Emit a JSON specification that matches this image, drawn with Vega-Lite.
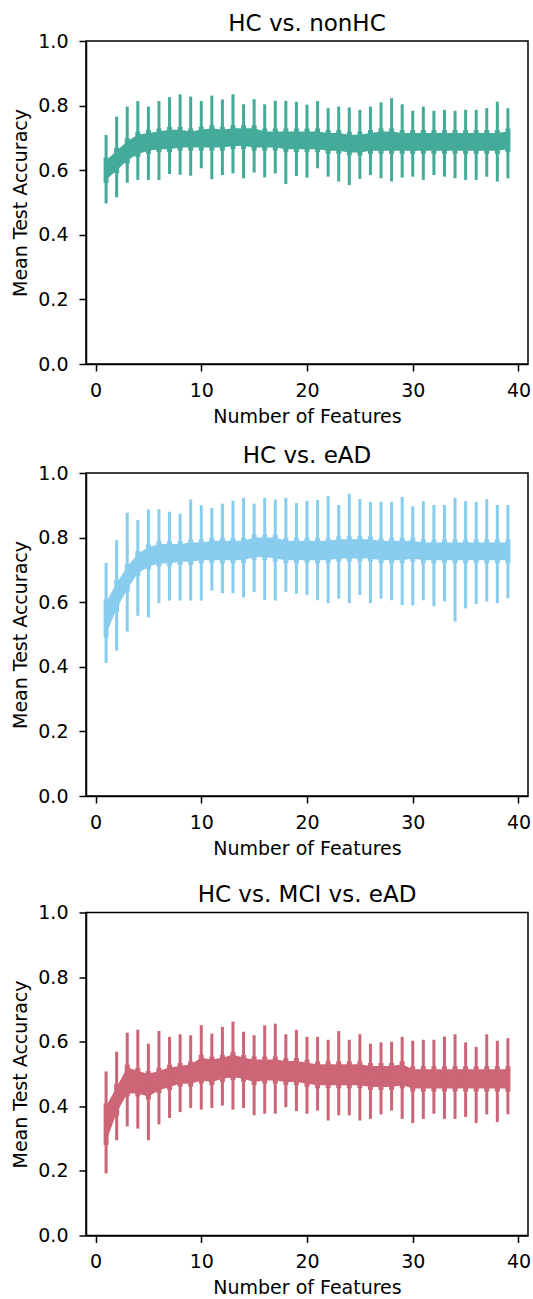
{
  "$schema": "https://vega.github.io/schema/vega-lite/v6.json",
  "padding": {"left": 11, "top": 11, "right": 5, "bottom": 0},
  "background": "white",
  "datasets": {
    "hcNonHC": [
      {"features":1,"errHigh":0.709,"errLow":0.497,"bandLow":0.57,"bandHigh":0.63},
      {"features":2,"errHigh":0.766,"errLow":0.516,"bandLow":0.60,"bandHigh":0.66},
      {"features":3,"errHigh":0.797,"errLow":0.561,"bandLow":0.63,"bandHigh":0.69},
      {"features":4,"errHigh":0.814,"errLow":0.570,"bandLow":0.65,"bandHigh":0.71},
      {"features":5,"errHigh":0.797,"errLow":0.570,"bandLow":0.66,"bandHigh":0.715},
      {"features":6,"errHigh":0.814,"errLow":0.570,"bandLow":0.665,"bandHigh":0.72},
      {"features":7,"errHigh":0.826,"errLow":0.588,"bandLow":0.665,"bandHigh":0.725},
      {"features":8,"errHigh":0.835,"errLow":0.586,"bandLow":0.67,"bandHigh":0.725},
      {"features":9,"errHigh":0.828,"errLow":0.583,"bandLow":0.67,"bandHigh":0.72},
      {"features":10,"errHigh":0.814,"errLow":0.606,"bandLow":0.67,"bandHigh":0.725},
      {"features":11,"errHigh":0.831,"errLow":0.572,"bandLow":0.67,"bandHigh":0.73},
      {"features":12,"errHigh":0.819,"errLow":0.585,"bandLow":0.67,"bandHigh":0.725},
      {"features":13,"errHigh":0.835,"errLow":0.590,"bandLow":0.675,"bandHigh":0.73},
      {"features":14,"errHigh":0.804,"errLow":0.575,"bandLow":0.675,"bandHigh":0.73},
      {"features":15,"errHigh":0.820,"errLow":0.593,"bandLow":0.67,"bandHigh":0.73},
      {"features":16,"errHigh":0.804,"errLow":0.578,"bandLow":0.67,"bandHigh":0.72},
      {"features":17,"errHigh":0.815,"errLow":0.590,"bandLow":0.67,"bandHigh":0.72},
      {"features":18,"errHigh":0.815,"errLow":0.557,"bandLow":0.665,"bandHigh":0.72},
      {"features":19,"errHigh":0.812,"errLow":0.582,"bandLow":0.665,"bandHigh":0.72},
      {"features":20,"errHigh":0.803,"errLow":0.577,"bandLow":0.665,"bandHigh":0.72},
      {"features":21,"errHigh":0.814,"errLow":0.606,"bandLow":0.665,"bandHigh":0.72},
      {"features":22,"errHigh":0.792,"errLow":0.580,"bandLow":0.66,"bandHigh":0.715},
      {"features":23,"errHigh":0.797,"errLow":0.565,"bandLow":0.66,"bandHigh":0.715},
      {"features":24,"errHigh":0.794,"errLow":0.554,"bandLow":0.655,"bandHigh":0.71},
      {"features":25,"errHigh":0.787,"errLow":0.573,"bandLow":0.655,"bandHigh":0.71},
      {"features":26,"errHigh":0.797,"errLow":0.585,"bandLow":0.66,"bandHigh":0.715},
      {"features":27,"errHigh":0.810,"errLow":0.575,"bandLow":0.66,"bandHigh":0.72},
      {"features":28,"errHigh":0.823,"errLow":0.565,"bandLow":0.66,"bandHigh":0.72},
      {"features":29,"errHigh":0.804,"errLow":0.577,"bandLow":0.66,"bandHigh":0.715},
      {"features":30,"errHigh":0.784,"errLow":0.580,"bandLow":0.66,"bandHigh":0.715},
      {"features":31,"errHigh":0.797,"errLow":0.570,"bandLow":0.66,"bandHigh":0.715},
      {"features":32,"errHigh":0.784,"errLow":0.585,"bandLow":0.66,"bandHigh":0.715},
      {"features":33,"errHigh":0.787,"errLow":0.580,"bandLow":0.66,"bandHigh":0.715},
      {"features":34,"errHigh":0.784,"errLow":0.575,"bandLow":0.66,"bandHigh":0.715},
      {"features":35,"errHigh":0.787,"errLow":0.570,"bandLow":0.66,"bandHigh":0.715},
      {"features":36,"errHigh":0.787,"errLow":0.570,"bandLow":0.66,"bandHigh":0.715},
      {"features":37,"errHigh":0.792,"errLow":0.580,"bandLow":0.66,"bandHigh":0.715},
      {"features":38,"errHigh":0.812,"errLow":0.565,"bandLow":0.66,"bandHigh":0.715},
      {"features":39,"errHigh":0.792,"errLow":0.575,"bandLow":0.665,"bandHigh":0.72}
    ],
    "hcEAD": [
      {"features":1,"errHigh":0.722,"errLow":0.412,"bandLow":0.50,"bandHigh":0.60},
      {"features":2,"errHigh":0.792,"errLow":0.450,"bandLow":0.58,"bandHigh":0.66},
      {"features":3,"errHigh":0.877,"errLow":0.509,"bandLow":0.64,"bandHigh":0.71},
      {"features":4,"errHigh":0.854,"errLow":0.558,"bandLow":0.69,"bandHigh":0.75},
      {"features":5,"errHigh":0.887,"errLow":0.553,"bandLow":0.71,"bandHigh":0.77},
      {"features":6,"errHigh":0.888,"errLow":0.597,"bandLow":0.72,"bandHigh":0.78},
      {"features":7,"errHigh":0.880,"errLow":0.605,"bandLow":0.72,"bandHigh":0.78},
      {"features":8,"errHigh":0.874,"errLow":0.605,"bandLow":0.725,"bandHigh":0.78},
      {"features":9,"errHigh":0.918,"errLow":0.605,"bandLow":0.725,"bandHigh":0.785},
      {"features":10,"errHigh":0.900,"errLow":0.605,"bandLow":0.73,"bandHigh":0.785},
      {"features":11,"errHigh":0.892,"errLow":0.636,"bandLow":0.73,"bandHigh":0.79},
      {"features":12,"errHigh":0.905,"errLow":0.628,"bandLow":0.73,"bandHigh":0.79},
      {"features":13,"errHigh":0.914,"errLow":0.628,"bandLow":0.73,"bandHigh":0.79},
      {"features":14,"errHigh":0.923,"errLow":0.615,"bandLow":0.73,"bandHigh":0.79},
      {"features":15,"errHigh":0.905,"errLow":0.631,"bandLow":0.74,"bandHigh":0.80},
      {"features":16,"errHigh":0.923,"errLow":0.607,"bandLow":0.74,"bandHigh":0.80},
      {"features":17,"errHigh":0.918,"errLow":0.605,"bandLow":0.735,"bandHigh":0.80},
      {"features":18,"errHigh":0.923,"errLow":0.632,"bandLow":0.73,"bandHigh":0.79},
      {"features":19,"errHigh":0.907,"errLow":0.626,"bandLow":0.73,"bandHigh":0.79},
      {"features":20,"errHigh":0.914,"errLow":0.622,"bandLow":0.73,"bandHigh":0.79},
      {"features":21,"errHigh":0.916,"errLow":0.606,"bandLow":0.73,"bandHigh":0.79},
      {"features":22,"errHigh":0.928,"errLow":0.597,"bandLow":0.73,"bandHigh":0.79},
      {"features":23,"errHigh":0.901,"errLow":0.611,"bandLow":0.735,"bandHigh":0.795},
      {"features":24,"errHigh":0.936,"errLow":0.597,"bandLow":0.735,"bandHigh":0.795},
      {"features":25,"errHigh":0.919,"errLow":0.622,"bandLow":0.735,"bandHigh":0.795},
      {"features":26,"errHigh":0.911,"errLow":0.597,"bandLow":0.735,"bandHigh":0.795},
      {"features":27,"errHigh":0.911,"errLow":0.611,"bandLow":0.73,"bandHigh":0.79},
      {"features":28,"errHigh":0.911,"errLow":0.606,"bandLow":0.73,"bandHigh":0.79},
      {"features":29,"errHigh":0.926,"errLow":0.591,"bandLow":0.73,"bandHigh":0.79},
      {"features":30,"errHigh":0.897,"errLow":0.590,"bandLow":0.735,"bandHigh":0.79},
      {"features":31,"errHigh":0.913,"errLow":0.606,"bandLow":0.73,"bandHigh":0.785},
      {"features":32,"errHigh":0.901,"errLow":0.587,"bandLow":0.73,"bandHigh":0.785},
      {"features":33,"errHigh":0.901,"errLow":0.603,"bandLow":0.73,"bandHigh":0.785},
      {"features":34,"errHigh":0.923,"errLow":0.540,"bandLow":0.73,"bandHigh":0.785},
      {"features":35,"errHigh":0.913,"errLow":0.581,"bandLow":0.73,"bandHigh":0.785},
      {"features":36,"errHigh":0.911,"errLow":0.594,"bandLow":0.73,"bandHigh":0.785},
      {"features":37,"errHigh":0.919,"errLow":0.602,"bandLow":0.73,"bandHigh":0.785},
      {"features":38,"errHigh":0.901,"errLow":0.597,"bandLow":0.73,"bandHigh":0.785},
      {"features":39,"errHigh":0.901,"errLow":0.612,"bandLow":0.73,"bandHigh":0.785}
    ],
    "hcMciEAD": [
      {"features":1,"errHigh":0.508,"errLow":0.192,"bandLow":0.29,"bandHigh":0.40},
      {"features":2,"errHigh":0.569,"errLow":0.295,"bandLow":0.38,"bandHigh":0.46},
      {"features":3,"errHigh":0.628,"errLow":0.338,"bandLow":0.44,"bandHigh":0.52},
      {"features":4,"errHigh":0.637,"errLow":0.331,"bandLow":0.44,"bandHigh":0.51},
      {"features":5,"errHigh":0.594,"errLow":0.295,"bandLow":0.43,"bandHigh":0.50},
      {"features":6,"errHigh":0.633,"errLow":0.344,"bandLow":0.45,"bandHigh":0.51},
      {"features":7,"errHigh":0.615,"errLow":0.364,"bandLow":0.46,"bandHigh":0.52},
      {"features":8,"errHigh":0.623,"errLow":0.382,"bandLow":0.47,"bandHigh":0.525},
      {"features":9,"errHigh":0.620,"errLow":0.395,"bandLow":0.47,"bandHigh":0.53},
      {"features":10,"errHigh":0.651,"errLow":0.390,"bandLow":0.48,"bandHigh":0.55},
      {"features":11,"errHigh":0.625,"errLow":0.395,"bandLow":0.475,"bandHigh":0.545},
      {"features":12,"errHigh":0.646,"errLow":0.402,"bandLow":0.485,"bandHigh":0.55},
      {"features":13,"errHigh":0.662,"errLow":0.390,"bandLow":0.49,"bandHigh":0.56},
      {"features":14,"errHigh":0.631,"errLow":0.395,"bandLow":0.485,"bandHigh":0.55},
      {"features":15,"errHigh":0.620,"errLow":0.372,"bandLow":0.475,"bandHigh":0.545},
      {"features":16,"errHigh":0.651,"errLow":0.377,"bandLow":0.48,"bandHigh":0.545},
      {"features":17,"errHigh":0.656,"errLow":0.377,"bandLow":0.48,"bandHigh":0.545},
      {"features":18,"errHigh":0.623,"errLow":0.397,"bandLow":0.475,"bandHigh":0.54},
      {"features":19,"errHigh":0.637,"errLow":0.385,"bandLow":0.475,"bandHigh":0.54},
      {"features":20,"errHigh":0.615,"errLow":0.377,"bandLow":0.47,"bandHigh":0.535},
      {"features":21,"errHigh":0.615,"errLow":0.387,"bandLow":0.465,"bandHigh":0.53},
      {"features":22,"errHigh":0.606,"errLow":0.356,"bandLow":0.465,"bandHigh":0.53},
      {"features":23,"errHigh":0.633,"errLow":0.372,"bandLow":0.465,"bandHigh":0.53},
      {"features":24,"errHigh":0.606,"errLow":0.372,"bandLow":0.465,"bandHigh":0.53},
      {"features":25,"errHigh":0.623,"errLow":0.356,"bandLow":0.465,"bandHigh":0.53},
      {"features":26,"errHigh":0.594,"errLow":0.361,"bandLow":0.46,"bandHigh":0.525},
      {"features":27,"errHigh":0.598,"errLow":0.375,"bandLow":0.46,"bandHigh":0.525},
      {"features":28,"errHigh":0.600,"errLow":0.387,"bandLow":0.46,"bandHigh":0.525},
      {"features":29,"errHigh":0.615,"errLow":0.361,"bandLow":0.465,"bandHigh":0.53},
      {"features":30,"errHigh":0.603,"errLow":0.348,"bandLow":0.455,"bandHigh":0.515},
      {"features":31,"errHigh":0.606,"errLow":0.361,"bandLow":0.455,"bandHigh":0.515},
      {"features":32,"errHigh":0.606,"errLow":0.377,"bandLow":0.455,"bandHigh":0.515},
      {"features":33,"errHigh":0.616,"errLow":0.361,"bandLow":0.455,"bandHigh":0.515},
      {"features":34,"errHigh":0.623,"errLow":0.361,"bandLow":0.455,"bandHigh":0.515},
      {"features":35,"errHigh":0.598,"errLow":0.367,"bandLow":0.455,"bandHigh":0.515},
      {"features":36,"errHigh":0.584,"errLow":0.348,"bandLow":0.455,"bandHigh":0.515},
      {"features":37,"errHigh":0.623,"errLow":0.375,"bandLow":0.455,"bandHigh":0.515},
      {"features":38,"errHigh":0.603,"errLow":0.351,"bandLow":0.455,"bandHigh":0.515},
      {"features":39,"errHigh":0.611,"errLow":0.375,"bandLow":0.455,"bandHigh":0.515}
    ]
  },
  "spacing": 23.5,
  "vconcat": [
    {
      "spacing": 16,
      "vconcat": [
        {
          "title": {"text": "HC vs. nonHC", "fontSize": 23, "offset": -3.5},
          "width": 442, "height": 323,
          "data": {"name": "hcNonHC"},
          "encoding": {
            "x": {"field": "features", "type": "quantitative", "title": "Number of Features",
                  "scale": {"domain": [-0.9, 40.9], "nice": false, "zero": false},
                  "axis": {"values": [0, 10, 20, 30, 40]}}
          },
          "layer": [
            {"mark": {"type": "rule", "color": "#44AA99", "strokeWidth": 3},
             "encoding": {"y": {"field": "errLow", "type": "quantitative", "title": "Mean Test Accuracy",
                                "scale": {"domain": [0, 1], "nice": false},
                                "axis": {"values": [0, 0.2, 0.4, 0.6, 0.8, 1.0], "format": ".1f"}},
                          "y2": {"field": "errHigh"}}},
            {"mark": {"type": "area", "color": "#44AA99", "opacity": 1},
             "encoding": {"y": {"field": "bandLow", "type": "quantitative", "title": "Mean Test Accuracy"},
                          "y2": {"field": "bandHigh"}}},
            {"mark": {"type": "rule", "color": "#44AA99", "strokeWidth": 5, "yOffset": -3, "y2Offset": 3},
             "encoding": {"y": {"field": "bandHigh", "type": "quantitative", "title": "Mean Test Accuracy"},
                          "y2": {"field": "bandLow"}}}
          ]
        },
        {
          "title": {"text": "HC vs. eAD", "fontSize": 23, "offset": -3.5},
          "width": 442, "height": 323,
          "data": {"name": "hcEAD"},
          "encoding": {
            "x": {"field": "features", "type": "quantitative", "title": "Number of Features",
                  "scale": {"domain": [-0.9, 40.9], "nice": false, "zero": false},
                  "axis": {"values": [0, 10, 20, 30, 40]}}
          },
          "layer": [
            {"mark": {"type": "rule", "color": "#88CCEE", "strokeWidth": 3},
             "encoding": {"y": {"field": "errLow", "type": "quantitative", "title": "Mean Test Accuracy",
                                "scale": {"domain": [0, 1], "nice": false},
                                "axis": {"values": [0, 0.2, 0.4, 0.6, 0.8, 1.0], "format": ".1f"}},
                          "y2": {"field": "errHigh"}}},
            {"mark": {"type": "area", "color": "#88CCEE", "opacity": 1},
             "encoding": {"y": {"field": "bandLow", "type": "quantitative", "title": "Mean Test Accuracy"},
                          "y2": {"field": "bandHigh"}}},
            {"mark": {"type": "rule", "color": "#88CCEE", "strokeWidth": 5, "yOffset": -3, "y2Offset": 3},
             "encoding": {"y": {"field": "bandHigh", "type": "quantitative", "title": "Mean Test Accuracy"},
                          "y2": {"field": "bandLow"}}}
          ]
        }
      ]
    },
    {
      "title": {"text": "HC vs. MCI vs. eAD", "fontSize": 23, "offset": -3.5},
      "width": 442, "height": 323,
      "data": {"name": "hcMciEAD"},
      "encoding": {
        "x": {"field": "features", "type": "quantitative", "title": "Number of Features",
              "scale": {"domain": [-0.9, 40.9], "nice": false, "zero": false},
              "axis": {"values": [0, 10, 20, 30, 40]}}
      },
      "layer": [
        {"mark": {"type": "rule", "color": "#CC6677", "strokeWidth": 3},
         "encoding": {"y": {"field": "errLow", "type": "quantitative", "title": "Mean Test Accuracy",
                            "scale": {"domain": [0, 1], "nice": false},
                            "axis": {"values": [0, 0.2, 0.4, 0.6, 0.8, 1.0], "format": ".1f"}},
                      "y2": {"field": "errHigh"}}},
        {"mark": {"type": "area", "color": "#CC6677", "opacity": 1},
         "encoding": {"y": {"field": "bandLow", "type": "quantitative", "title": "Mean Test Accuracy"},
                      "y2": {"field": "bandHigh"}}},
        {"mark": {"type": "rule", "color": "#CC6677", "strokeWidth": 5, "yOffset": -3, "y2Offset": 3},
         "encoding": {"y": {"field": "bandHigh", "type": "quantitative", "title": "Mean Test Accuracy"},
                      "y2": {"field": "bandLow"}}}
      ]
    }
  ],
  "config": {
    "font": "DejaVu Sans",
    "view": {"stroke": "black", "strokeWidth": 1.5},
    "axis": {
      "grid": false,
      "domainColor": "black", "domainWidth": 1.5,
      "tickColor": "black", "tickWidth": 1.5, "tickSize": 7,
      "labelFont": "DejaVu Sans", "labelFontSize": 19, "labelColor": "black",
      "titleFont": "DejaVu Sans", "titleFontSize": 19, "titleFontWeight": "normal", "titleColor": "black"
    },
    "axisX": {"titlePadding": 7, "labelPadding": 10, "labelFlush": false},
    "axisY": {"titlePadding": 7, "labelPadding": 11},
    "title": {"font": "DejaVu Sans", "fontSize": 23, "fontWeight": "normal", "color": "black", "anchor": "middle"}
  }
}
